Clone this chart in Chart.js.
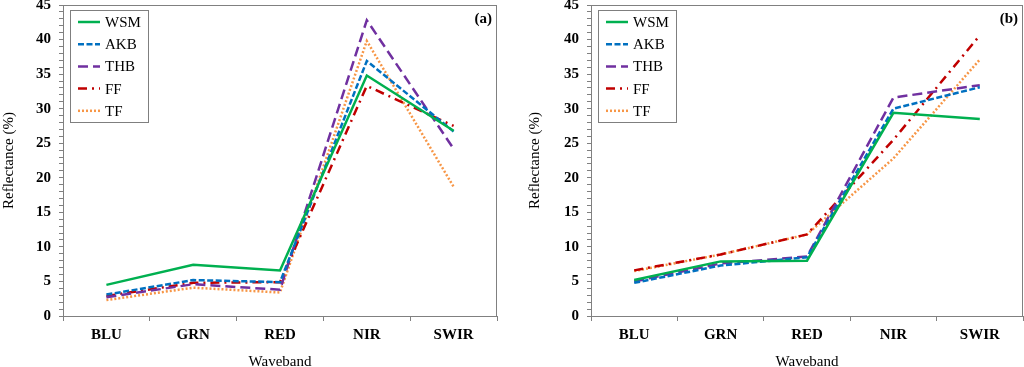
<!DOCTYPE html>
<html>
<head>
<meta charset="utf-8">
<script src="https://cdn.jsdelivr.net/npm/chart.js@4"></script>
<style>
  html, body { margin: 0; padding: 0; background: #fff; }
  .wrap { display: flex; width: 1024px; height: 367px; }
  .cell { position: relative; width: 512px; height: 367px; }
</style>
</head>
<body>
<div class="wrap">
  <div class="cell"><canvas id="chartA" width="512" height="367"></canvas></div>
  <div class="cell"><canvas id="chartB" width="512" height="367"></canvas></div>
</div>
<script>
const wavebands = ['BLU', 'GRN', 'RED', 'NIR', 'SWIR'];
const seriesNames = ['WSM', 'AKB', 'THB', 'FF', 'TF'];

// panel (a)
const wsmA = [4.5, 7.4, 6.6, 34.8, 26.8];
const akbA = [3.1, 5.2, 4.9, 36.9, 26.7];
const thbA = [2.7, 4.6, 3.8, 42.8, 24.2];
const ffA  = [2.9, 4.8, 4.9, 33.3, 27.5];
const tfA  = [2.3, 4.1, 3.4, 39.8, 18.7];

// panel (b)
const wsmB = [5.2, 7.9, 8.0, 29.4, 28.5];
const akbB = [4.8, 7.3, 8.5, 30.0, 33.1];
const thbB = [5.0, 7.6, 8.6, 31.6, 33.4];
const ffB  = [6.6, 8.9, 11.8, 25.5, 40.6];
const tfB  = [6.5, 8.9, 11.8, 22.8, 37.1];

const yTicksMax = 45;
const serif = "'Liberation Serif', 'Times New Roman', serif";
const frameColor = '#808080';

const styles = [
  { color: '#00B050', dash: [] },
  { color: '#0070C0', dash: [6, 2.5] },
  { color: '#7030A0', dash: [10, 5] },
  { color: '#C00000', dash: [9, 5, 2, 5] },
  { color: '#F79646', dash: [2, 2] }
];

const framePlugin = {
  id: 'frame',
  afterDraw(chart, args, opts) {
    const { ctx, chartArea: a } = chart;
    ctx.save();
    ctx.strokeStyle = frameColor;
    ctx.lineWidth = 1;
    ctx.strokeRect(a.left + 0.5, a.top + 0.5, a.right - a.left - 1, a.bottom - a.top);

    // legend box
    const bx = a.left + 7, by = a.top + 5, bw = 78, bh = 112;
    ctx.fillStyle = '#fff';
    ctx.fillRect(bx, by, bw, bh);
    ctx.strokeStyle = '#7f7f7f';
    ctx.strokeRect(bx + 0.5, by + 0.5, bw, bh);
    chart.data.datasets.forEach((ds, i) => {
      const y = by + 12 + i * 22.2;
      ctx.beginPath();
      ctx.setLineDash(ds.borderDash || []);
      ctx.strokeStyle = ds.borderColor;
      ctx.lineWidth = 2.5;
      ctx.moveTo(bx + 8, y);
      ctx.lineTo(bx + 30, y);
      ctx.stroke();
      ctx.setLineDash([]);
      ctx.fillStyle = '#000';
      ctx.font = '15px ' + serif;
      ctx.textBaseline = 'middle';
      ctx.textAlign = 'left';
      ctx.fillText(ds.label, bx + 35, y + 1);
    });

    // panel label
    ctx.font = 'bold 15px ' + serif;
    ctx.textAlign = 'right';
    ctx.textBaseline = 'middle';
    ctx.fillStyle = '#000';
    ctx.fillText(opts.tag, a.right - 5, a.top + 14);
    ctx.restore();
  }
};

function makeChart(id, values, tag, padLeft, yWidth, padRight) {
  const datasets = values.map((v, i) => ({
    label: seriesNames[i],
    data: v,
    borderColor: styles[i].color,
    backgroundColor: styles[i].color,
    borderDash: styles[i].dash,
    borderWidth: 2.5,
    pointRadius: 0,
    fill: false,
    tension: 0
  }));

  new Chart(document.getElementById(id), {
    type: 'line',
    data: { labels: wavebands, datasets },
    options: {
      responsive: false,
      animation: false,
      layout: { padding: { left: padLeft, right: padRight, top: 5, bottom: 0 } },
      plugins: {
        legend: { display: false },
        tooltip: { enabled: false },
        frame: { tag }
      },
      scales: {
        x: {
          offset: true,
          grid: {
            offset: true,
            drawOnChartArea: false,
            drawTicks: true,
            tickLength: 5,
            tickColor: frameColor
          },
          border: { color: frameColor },
          ticks: {
            color: '#000',
            padding: 5,
            font: { family: serif, size: 15, weight: 'bold' }
          },
          title: {
            display: true,
            text: 'Waveband',
            color: '#000',
            padding: { top: 10, bottom: -4 },
            font: { family: serif, size: 15 }
          },
          afterFit: s => { s.height = 51; }
        },
        y: {
          min: 0,
          max: yTicksMax,
          grid: {
            drawOnChartArea: false,
            drawTicks: true,
            tickLength: 4,
            tickColor: frameColor
          },
          border: { color: frameColor },
          ticks: {
            stepSize: 1,
            autoSkip: false,
            color: '#000',
            padding: 8,
            font: { family: serif, size: 15, weight: 'bold' },
            callback: v => (v % 5 === 0 ? v : '')
          },
          title: {
            display: true,
            text: 'Reflectance (%)',
            color: '#000',
            padding: 0,
            font: { family: serif, size: 15 }
          },
          afterFit: s => { s.width = yWidth; s.paddingTop = 0; s.paddingBottom = 0; }
        }
      }
    },
    plugins: [framePlugin]
  });
}

makeChart('chartA', [wsmA, akbA, thbA, ffA, tfA], '(a)', 0, 63, 15);
makeChart('chartB', [wsmB, akbB, thbB, ffB, tfB], '(b)', 14, 65, 1);
</script>
</body>
</html>
